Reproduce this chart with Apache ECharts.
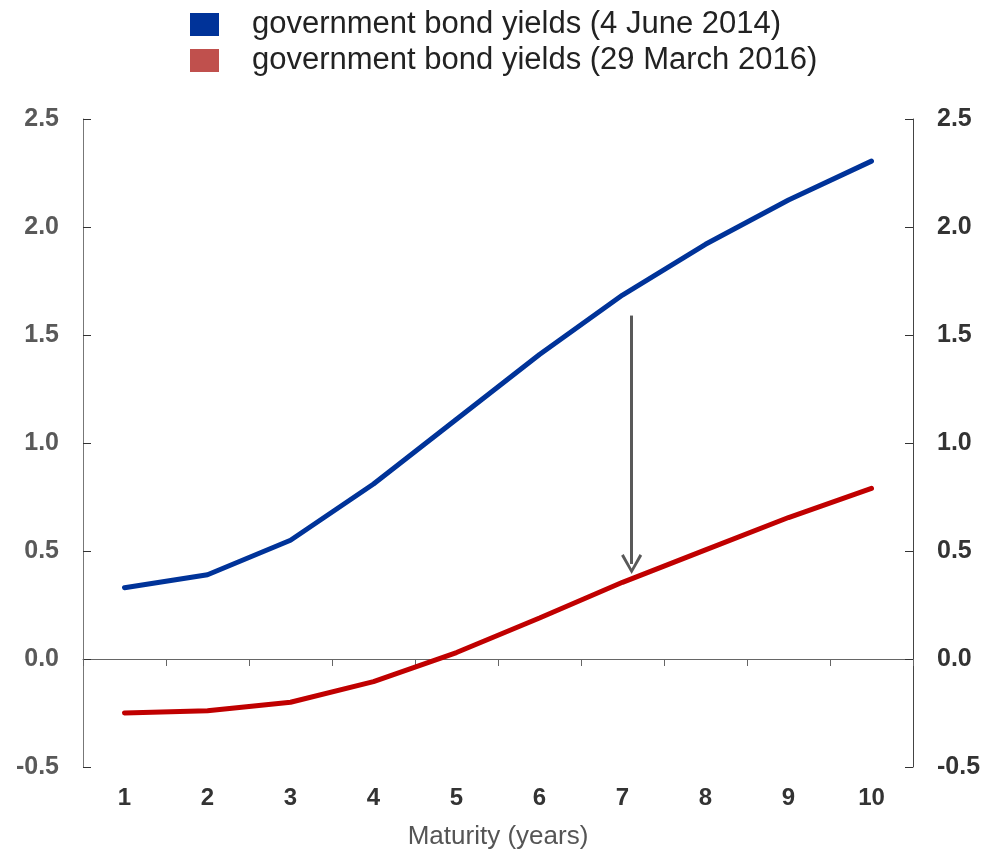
<!DOCTYPE html>
<html><head><meta charset="utf-8">
<script src="https://cdn.jsdelivr.net/npm/echarts@6/dist/echarts.min.js"></script>
<style>html,body{margin:0;padding:0;background:#fff}#c{width:987px;height:851px}</style>
</head><body><div id="c"></div>
<script>
var categories = ['1','2','3','4','5','6','7','8','9','10'];
var yields2014 = [0.33, 0.39, 0.55, 0.81, 1.11, 1.41, 1.685, 1.92, 2.125, 2.305];
var yields2016 = [-0.25, -0.24, -0.20, -0.105, 0.03, 0.19, 0.355, 0.505, 0.655, 0.79];
var arrowFrom = [7.11, 1.59];
var arrowTo = [7.11, 0.44];

var chart = echarts.init(document.getElementById('c'));
var font = 'Liberation Sans, Arial, sans-serif';
var chevron = 'path://M10,0 L20,17 L17.6,18.6 L10,5 L2.4,18.6 L0,17 Z';
chart.setOption({
  animation: false,
  grid: {left: 83, right: 74, top: 119, bottom: 84, containLabel: false, outerBoundsMode: 'none'},
  legend: {
    orient: 'vertical', left: 190, top: 8, padding: 0, itemWidth: 29, itemHeight: 23, itemGap: 3,
    icon: 'rect',
    textStyle: {fontFamily: font, fontSize: 31, lineHeight: 33, color: '#222', padding: [0,0,0,28]},
    data: ['government bond yields (4 June 2014)', 'government bond yields (29 March 2016)']
  },
  xAxis: [
    {type: 'category', data: categories, boundaryGap: true, position: 'bottom',
     axisLine: {onZero: true, lineStyle: {color: '#666', width: 1}},
     axisTick: {show: true, length: 7, inside: false, alignWithLabel: false, lineStyle: {color: '#666'}},
     axisLabel: {show: false}},
    {type: 'category', data: categories, boundaryGap: true, position: 'bottom',
     axisLine: {show: false, onZero: false}, axisTick: {show: false},
     axisLabel: {show: true, margin: 19, fontFamily: font, fontSize: 24, fontWeight: 'bold', color: '#333'},
     name: 'Maturity (years)', nameLocation: 'middle', nameGap: 57,
     nameTextStyle: {fontFamily: font, fontSize: 26, color: '#555'}},
    {type: 'value', min: 0.5, max: 10.5, show: false}
  ],
  yAxis: [
    {type: 'value', min: -0.5, max: 2.5, interval: 0.5, position: 'left',
     axisLine: {show: true, onZero: false, lineStyle: {color: '#777'}},
     axisTick: {show: true, inside: true, length: 8, lineStyle: {color: '#333'}},
     splitLine: {show: false},
     axisLabel: {margin: 24, fontFamily: font, fontSize: 25, fontWeight: 'bold', color: '#595959',
       formatter: function(v){return v.toFixed(1);}}},
    {type: 'value', min: -0.5, max: 2.5, interval: 0.5, position: 'right',
     axisLine: {show: true, onZero: false, lineStyle: {color: '#444'}},
     axisTick: {show: true, inside: true, length: 8, lineStyle: {color: '#333'}},
     splitLine: {show: false},
     axisLabel: {margin: 24, fontFamily: font, fontSize: 25, fontWeight: 'bold', color: '#333',
       formatter: function(v){return v.toFixed(1);}}}
  ],
  series: [
    {name: 'government bond yields (4 June 2014)', type: 'line', data: yields2014,
     xAxisIndex: 0, yAxisIndex: 0, showSymbol: false, symbol: 'none',
     itemStyle: {color: '#003399'}, lineStyle: {color: '#003399', width: 5, cap: 'round'}},
    {name: 'government bond yields (29 March 2016)', type: 'line', data: yields2016,
     xAxisIndex: 0, yAxisIndex: 0, showSymbol: false, symbol: 'none',
     itemStyle: {color: '#C0504D'}, lineStyle: {color: '#C00000', width: 5, cap: 'round'}},
    {name: 'arrow', type: 'line', xAxisIndex: 2, yAxisIndex: 0, data: [],
     markLine: {silent: true, symbol: ['none', chevron], symbolSize: [21, 20],
       label: {show: false},
       lineStyle: {color: '#595959', width: 3, type: 'solid'},
       data: [[{coord: arrowFrom}, {coord: arrowTo}]]}}
  ]
});
</script></body></html>
